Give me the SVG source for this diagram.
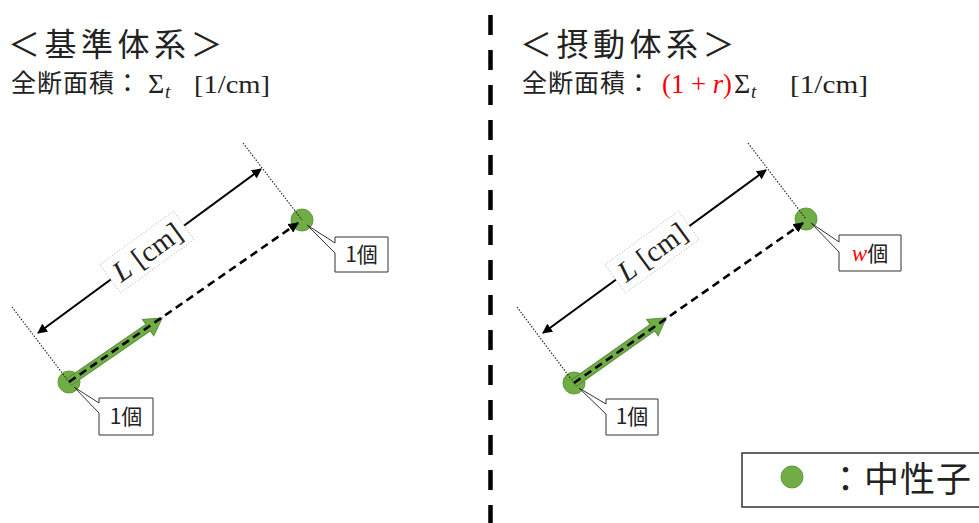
<svg xmlns="http://www.w3.org/2000/svg" width="979" height="523" viewBox="0 0 979 523">
<style>
.cjk{font-family:"Noto Sans CJK JP","Noto Sans CJK SC",sans-serif;fill:#222}
.title{font-size:32px;letter-spacing:4.5px}
.sub{font-size:25px;letter-spacing:1px}
.m{font-family:"Liberation Serif","DejaVu Serif",serif;fill:#222}
.it{font-style:italic}
.red{fill:#ff0000}
.node{fill:#70AD47;stroke:#5E9A3B;stroke-width:1}
.dot{stroke:#222;stroke-width:1.1;stroke-dasharray:1.5 1.5;fill:none}
.dim{stroke:#000;stroke-width:2;fill:none}
.dash{stroke:#000;stroke-width:2.6;stroke-dasharray:8 5;fill:none}
.garrow{fill:#70AD47;stroke:#578F36;stroke-width:1}
.call{fill:#fff;stroke:#333;stroke-width:1}
.lbox{fill:#fff;stroke:#bbb;stroke-width:1;stroke-dasharray:1 2}
.ct{font-size:21px}
</style>
<defs>
<marker id="ah" viewBox="0 0 10 10" refX="9" refY="5" markerWidth="5" markerHeight="5" orient="auto-start-reverse" markerUnits="strokeWidth">
<path d="M0,0 L10,5 L0,10 Z" fill="#000"/>
</marker>
<marker id="ahd" viewBox="0 0 10 10" refX="9" refY="5" markerWidth="4" markerHeight="4" orient="auto" markerUnits="strokeWidth">
<path d="M0,0 L10,5 L0,10 Z" fill="#000"/>
</marker>
</defs>

<!-- divider -->
<line x1="490.5" y1="15" x2="490.5" y2="523" stroke="#000" stroke-width="4.5" stroke-dasharray="20 15"/>

<!-- Left panel -->
<g id="left-title">
<text class="cjk title" x="8" y="56">＜基準体系＞</text>
<text class="cjk sub" x="11" y="92">全断面積：</text>
<text class="m" x="148" y="93" font-size="28">Σ</text>
<text class="m it" x="165" y="98" font-size="19">t</text>
<text class="m" x="194" y="93" font-size="26" textLength="76" lengthAdjust="spacingAndGlyphs">[1/cm]</text>
</g>

<g id="left-nodes">
<circle id="left-n1" class="node" cx="69" cy="382" r="11"/>
<circle id="left-n2" class="node" cx="302" cy="220" r="11"/>
</g>

<g id="left-connectors">
<line class="dot" x1="12" y1="307" x2="69" y2="382"/>
<line class="dot" x1="243" y1="143" x2="302" y2="220"/>
<line class="dim" x1="38" y1="333" x2="261" y2="169" marker-start="url(#ah)" marker-end="url(#ah)"/>
<g transform="translate(69,382) rotate(-34.5)">
<polygon class="garrow" points="0,-4 96,-4 96,-10 113,0 96,10 96,4 0,4"/>
</g>
<line class="dash" x1="69" y1="382" x2="298" y2="223" marker-end="url(#ahd)"/>
</g>

<g id="left-label" transform="translate(147,252) rotate(-36)">
<rect class="lbox" x="-45.5" y="-17.5" width="91" height="35"/>
<text class="m" x="0" y="10" font-size="29" text-anchor="middle"><tspan class="it">L</tspan> [cm]</text>
</g>

<g id="left-call1">
<path class="call" d="M99,398 H153 V435 H99 V413 L74,387 L99,403 Z"/>
<text class="cjk ct" x="126" y="424" text-anchor="middle">1個</text>
</g>
<g id="left-call2">
<path class="call" d="M335,237 H388 V272 H335 V253 L307,225 L335,243 Z"/>
<text class="cjk ct" x="361.5" y="262" text-anchor="middle">1個</text>
</g>

<!-- Right panel -->
<g id="right-title">
<text class="cjk title" x="520" y="56">＜摂動体系＞</text>
<text class="cjk sub" x="522" y="92">全断面積：</text>
<text class="m red" x="662" y="93" font-size="27" textLength="70" lengthAdjust="spacingAndGlyphs">(1 + <tspan class="it">r</tspan>)</text>
<text class="m" x="734" y="93" font-size="28">Σ</text>
<text class="m it" x="751" y="98" font-size="19">t</text>
<text class="m" x="790" y="93" font-size="26" textLength="78" lengthAdjust="spacingAndGlyphs">[1/cm]</text>
</g>

<g id="right-nodes">
<circle id="right-n1" class="node" cx="574" cy="383" r="11"/>
<circle id="right-n2" class="node" cx="806" cy="219" r="11"/>
</g>

<g id="right-connectors">
<line class="dot" x1="517" y1="307" x2="574" y2="383"/>
<line class="dot" x1="748" y1="143" x2="806" y2="219"/>
<line class="dim" x1="543" y1="333" x2="766" y2="170" marker-start="url(#ah)" marker-end="url(#ah)"/>
<g transform="translate(574,383) rotate(-35.2)">
<polygon class="garrow" points="0,-4 96,-4 96,-10 113,0 96,10 96,4 0,4"/>
</g>
<line class="dash" x1="574" y1="383" x2="803" y2="223" marker-end="url(#ahd)"/>
</g>

<g id="right-label" transform="translate(652,252) rotate(-36)">
<rect class="lbox" x="-45.5" y="-17.5" width="91" height="35"/>
<text class="m" x="0" y="10" font-size="29" text-anchor="middle"><tspan class="it">L</tspan> [cm]</text>
</g>

<g id="right-call1">
<path class="call" d="M606,399 H658 V435 H606 V414 L579,388 L606,404 Z"/>
<text class="cjk ct" x="632" y="424" text-anchor="middle">1個</text>
</g>
<g id="right-call2">
<path class="call" d="M839,235 H901 V271 H839 V252 L811,223 L839,242 Z"/>
<text x="870" y="261" text-anchor="middle"><tspan class="m it red" font-size="23">w</tspan><tspan class="cjk ct">個</tspan></text>
</g>

<!-- Legend -->
<g id="legend">
<rect x="742" y="453" width="250" height="54" fill="#fff" stroke="#333" stroke-width="1.5"/>
<circle class="node" cx="792" cy="477" r="11"/>
<text class="cjk" x="828" y="492" font-size="35" letter-spacing="1">：中性子</text>
</g>
</svg>
